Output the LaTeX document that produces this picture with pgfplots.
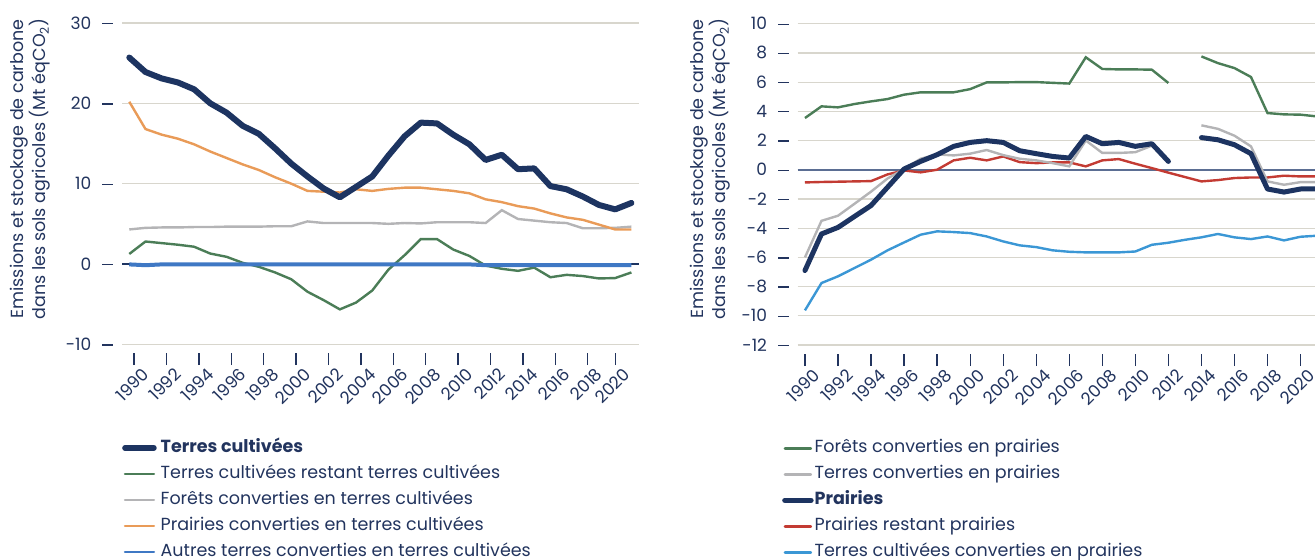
\documentclass[border=0pt]{standalone}
\usepackage{fontspec}
\setmainfont{Poppins}
\usepackage{pgfplots}
\usepackage{pgfplotstable}
\pgfplotsset{compat=1.18}
\definecolor{navy}{HTML}{1D3461}
\definecolor{txt}{HTML}{22345E}
\definecolor{gridc}{HTML}{D8D6CD}
\definecolor{zeroc}{HTML}{5B6E93}
\definecolor{cgreen}{HTML}{4B7D57}
\definecolor{cgrey}{HTML}{B4B4B6}
\definecolor{corange}{HTML}{E99B58}
\definecolor{cblue}{HTML}{3F78C4}
\definecolor{cred}{HTML}{C33B33}
\definecolor{clblue}{HTML}{3B97D5}

\pgfplotstableread{
year dark green grey orange blue
1990 25.7 1.25 4.3 20.2 -0.05
1991 23.9 2.8 4.5 16.8 -0.15
1992 23.1 2.6 4.55 16.1 -0.05
1993 22.6 2.4 4.55 15.6 -0.05
1994 21.75 2.15 4.6 14.9 -0.05
1995 20.0 1.3 4.6 14.0 -0.05
1996 18.85 0.9 4.65 13.2 -0.05
1997 17.2 0.15 4.65 12.4 -0.05
1998 16.2 -0.35 4.65 11.7 -0.05
1999 14.4 -1.05 4.7 10.8 -0.05
2000 12.5 -1.9 4.7 10.0 -0.05
2001 10.9 -3.45 5.3 9.1 -0.05
2002 9.4 -4.5 5.1 9.0 -0.05
2003 8.3 -5.65 5.1 8.9 -0.05
2004 9.6 -4.8 5.1 9.3 -0.05
2005 10.9 -3.3 5.1 9.1 -0.05
2006 13.5 -0.7 5.0 9.35 -0.05
2007 15.9 1.1 5.1 9.5 -0.05
2008 17.6 3.1 5.05 9.5 -0.05
2009 17.5 3.1 5.2 9.3 -0.05
2010 16.1 1.8 5.2 9.1 -0.05
2011 14.9 1.0 5.2 8.8 -0.05
2012 12.95 -0.2 5.1 8.05 -0.15
2013 13.6 -0.6 6.7 7.7 -0.15
2014 11.8 -0.85 5.6 7.2 -0.15
2015 11.9 -0.45 5.4 6.9 -0.15
2016 9.7 -1.65 5.2 6.3 -0.15
2017 9.3 -1.35 5.1 5.8 -0.15
2018 8.4 -1.5 4.45 5.5 -0.15
2019 7.35 -1.8 4.45 4.9 -0.15
2020 6.8 -1.75 4.5 4.3 -0.15
2021 7.6 -1.05 4.65 4.3 -0.15
}\lefttab

\pgfplotstableread{
year green grey dark red blue
1990 3.54 -6.0 -6.9 -0.87 -9.63
1991 4.34 -3.5 -4.4 -0.84 -7.76
1992 4.27 -3.15 -3.95 -0.82 -7.3
1993 4.5 -2.33 -3.2 -0.8 -6.73
1994 4.68 -1.5 -2.45 -0.78 -6.16
1995 4.84 -0.6 -1.2 -0.32 -5.52
1996 5.14 0.05 0.05 -0.05 -4.98
1997 5.3 0.75 0.57 -0.18 -4.45
1998 5.3 1.05 1.03 0.0 -4.22
1999 5.3 0.98 1.6 0.64 -4.27
2000 5.52 1.1 1.87 0.82 -4.34
2001 5.98 1.35 1.99 0.64 -4.57
2002 5.98 1.0 1.87 0.91 -4.91
2003 6.0 0.75 1.3 0.52 -5.18
2004 6.0 0.64 1.1 0.45 -5.3
2005 5.95 0.45 0.91 0.5 -5.52
2006 5.9 0.23 0.8 0.5 -5.62
2007 7.7 2.0 2.28 0.23 -5.66
2008 6.9 1.15 1.78 0.64 -5.66
2009 6.87 1.15 1.87 0.73 -5.66
2010 6.87 1.2 1.6 0.41 -5.6
2011 6.85 1.65 1.78 0.11 -5.14
2012 5.94 0.55 0.57 -0.2 -5.0
2013 nan nan nan -0.5 -4.8
2014 7.76 3.04 2.2 -0.8 -4.63
2015 7.3 2.8 2.05 -0.71 -4.4
2016 6.96 2.33 1.71 -0.57 -4.63
2017 6.35 1.6 1.1 -0.53 -4.75
2018 3.88 -0.8 -1.32 -0.53 -4.57
2019 3.79 -1.03 -1.53 -0.41 -4.84
2020 3.77 -0.85 -1.32 -0.46 -4.59
2021 3.65 -0.85 -1.32 -0.46 -4.52
}\righttab

\newcommand\tk{\hspace{11bp}\textcolor{txt}{\rule[5bp]{11bp}{1.3bp}}}

\pgfplotsset{
  common/.style={
    scale only axis,
    axis line style={draw=none},
    ymajorgrids,
    grid style={gridc, line width=1.2bp},
    xtick pos=bottom, ytick pos=left,
    xtick align=outside,
    major tick length=12bp,
    xtick style={txt, line width=1.3bp},
    ytick style={draw=none},
    tick label style={font=\fontsize{17bp}{19bp}\selectfont, text=txt},
    yticklabel style={anchor=east, inner sep=0pt, xshift=-8.5bp},
    xticklabel style={rotate=45, anchor=north east, inner sep=0pt, xshift=4bp, yshift=-6bp},
    unbounded coords=jump,
    clip=true,
    legend style={draw=none, fill=none, inner sep=0pt, anchor=north west,
      font=\fontsize{17.5bp}{19bp}\selectfont, text=txt,
      cells={anchor=west},
      nodes={inner sep=0pt, text height=12.5bp, text depth=4bp},
      row sep=9.5bp},
    legend cell align=left,
  },
}

\begin{document}
\begin{tikzpicture}
\useasboundingbox (0,-560bp) rectangle (1315bp,0);

% ---------------- left axis ----------------
\begin{axis}[common,
  at={(122bp,-353bp)}, anchor=south west,
  width=517bp, height=330bp,
  xmin=1989.55, xmax=2021.47,
  ymin=-11.08, ymax=30,
  ytick={-10,0,10,20,30},
  yticklabels={-10\tk,0\tk,10\tk,20\tk,30\tk},
  xtick={1990.3,1992.3,1994.3,1996.3,1998.3,2000.3,2002.3,2004.3,2006.3,2008.3,2010.3,2012.3,2014.3,2016.3,2018.3,2020},
  xticklabels={1990,1992,1994,1996,1998,2000,2002,2004,2006,2008,2010,2012,2014,2016,2018,2020},
  extra y ticks={0}, extra y tick labels={},
  extra y tick style={grid style={navy, line width=1.4bp}},
  legend style={at={(axis description cs:0.0,-0.262)}, column sep=4bp},
  legend image code/.code={\draw[#1, line cap=round] (0bp,0bp) -- (29bp,0bp);},
]
\addlegendimage{navy, line width=5.5bp}
\addlegendentry{\textbf{Terres cultivées}}
\addlegendimage{cgreen, line width=2.4bp}
\addlegendentry{Terres cultivées restant terres cultivées}
\addlegendimage{cgrey, line width=2.4bp}
\addlegendentry{Forêts converties en terres cultivées}
\addlegendimage{corange, line width=2.4bp}
\addlegendentry{Prairies converties en terres cultivées}
\addlegendimage{cblue, line width=2.4bp}
\addlegendentry{Autres terres converties en terres cultivées}

\addplot[cgrey, line width=2.4bp, forget plot] table[x=year,y=grey]{\lefttab};
\addplot[cgreen, line width=2.4bp, forget plot] table[x=year,y=green]{\lefttab};
\addplot[cblue, line width=4bp, forget plot] table[x=year,y=blue]{\lefttab};
\addplot[corange, line width=2.4bp, forget plot] table[x=year,y=orange]{\lefttab};
\addplot[navy, line width=6bp, line join=round, line cap=round, forget plot] table[x=year,y=dark]{\lefttab};
\end{axis}

% ---------------- right axis ----------------
\begin{axis}[common,
  at={(797.7bp,-354bp)}, anchor=south west,
  width=524.3bp, height=330.3bp,
  xmin=1989.56, xmax=2021.3,
  ymin=-12.62, ymax=10,
  ytick={-12,-10,...,10},
  yticklabels={-12\tk,-10\tk,-8\tk,-6\tk,-4\tk,-2\tk,0\tk,2\tk,4\tk,6\tk,8\tk,10\tk},
  xtick={1990,1992,...,2020},
  xticklabels={1990,1992,1994,1996,1998,2000,2002,2004,2006,2008,2010,2012,2014,2016,2018,2020},
  extra y ticks={0}, extra y tick labels={},
  extra y tick style={grid style={zeroc, line width=1.6bp}},
  legend style={at={(axis description cs:-0.030,-0.260)}, column sep=1bp},
  legend image code/.code={\draw[#1, line cap=round] (0bp,0bp) -- (26bp,0bp);},
]
\addlegendimage{cgreen, line width=2.4bp}
\addlegendentry{Forêts converties en prairies}
\addlegendimage{cgrey, line width=2.4bp}
\addlegendentry{Terres converties en prairies}
\addlegendimage{navy, line width=5.5bp}
\addlegendentry{\textbf{Prairies}}
\addlegendimage{cred, line width=2.4bp}
\addlegendentry{Prairies restant prairies}
\addlegendimage{clblue, line width=2.4bp}
\addlegendentry{Terres cultivées converties en prairies}

\addplot[clblue, line width=2.4bp, forget plot] table[x=year,y=blue]{\righttab};
\addplot[cgreen, line width=2.4bp, forget plot] table[x=year,y=green]{\righttab};
\addplot[cred, line width=2.4bp, forget plot] table[x=year,y=red]{\righttab};
\addplot[cgrey, line width=2.4bp, forget plot] table[x=year,y=grey]{\righttab};
\addplot[navy, line width=5bp, line join=round, line cap=round, forget plot] table[x=year,y=dark]{\righttab};
\end{axis}

\node[rotate=90, align=center, text=txt, font=\fontsize{17.5bp}{21bp}\selectfont] at (30.5bp,-169bp)
  {Emissions et stockage de carbone\\dans les sols agricoles (Mt éqCO\textsubscript{2})};
\node[rotate=90, align=center, text=txt, font=\fontsize{17.5bp}{21bp}\selectfont] at (710.5bp,-169bp)
  {Emissions et stockage de carbone\\dans les sols agricoles (Mt éqCO\textsubscript{2})};
\end{tikzpicture}
\end{document}
